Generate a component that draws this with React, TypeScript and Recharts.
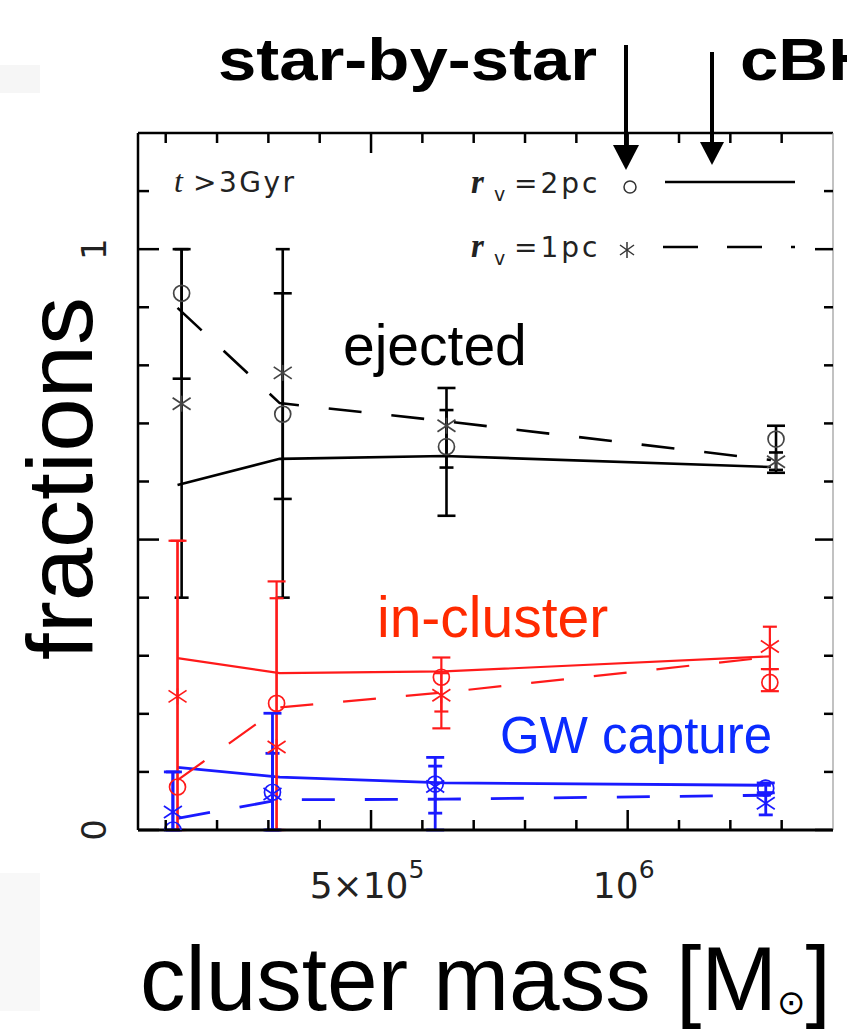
import React from "react";
import { ComposedChart, XAxis, YAxis, Line, Scatter, ErrorBar } from "recharts";

const W = 847;
const H = 1029;

// cluster mass [Msun]; markers of each colour sit slightly apart, cBH lines share one set
const MASS_CBH = [1.23e5, 3.22e5, 6.43e5, 1.279e6];
const MASS_EJ = [1.31e5, 3.28e5, 6.47e5, 1.289e6];
const MASS_IN = [1.23e5, 3.16e5, 6.37e5, 1.277e6];
const MASS_GW = [1.14e5, 3.08e5, 6.25e5, 1.269e6];

// ejected (black)
const EJ_STAR_2PC = [0.924, 0.716, 0.66, 0.673];
const EJ_STAR_2PC_LO = [0.777, 0.57, 0.541, 0.615];
const EJ_STAR_2PC_HI = [1.0, 0.924, 0.761, 0.696];
const EJ_STAR_1PC = [0.734, 0.787, 0.696, 0.634];
const EJ_STAR_1PC_LO = [0.4, 0.4, 0.624, 0.62];
const EJ_STAR_1PC_HI = [1.0, 1.0, 0.723, 0.65];
const EJ_CBH_2PC = [0.594, 0.639, 0.644, 0.625];
const EJ_CBH_1PC = [0.899, 0.735, 0.704, 0.637];

// in-cluster (red)
const IN_STAR_2PC = [0.074, 0.218, 0.263, 0.254];
const IN_STAR_2PC_LO = [0.0, 0.0, 0.175, 0.239];
const IN_STAR_2PC_HI = [0.498, 0.428, 0.297, 0.277];
const IN_STAR_1PC = [0.23, 0.143, 0.232, 0.316];
const IN_STAR_1PC_LO = [0.0, 0.0, 0.204, 0.277];
const IN_STAR_1PC_HI = [0.498, 0.399, 0.27, 0.35];
const IN_CBH_2PC = [0.296, 0.27, 0.273, 0.299];
const IN_CBH_1PC = [0.086, 0.211, 0.237, 0.298];

// GW capture (blue)
const GW_STAR_2PC = [0.0, 0.065, 0.079, 0.072];
const GW_STAR_2PC_LO = [0.0, 0.0, 0.0, 0.064];
const GW_STAR_2PC_HI = [0.1, 0.201, 0.125, 0.081];
const GW_STAR_1PC = [0.031, 0.062, 0.075, 0.046];
const GW_STAR_1PC_LO = [0.0, 0.0, 0.029, 0.026];
const GW_STAR_1PC_HI = [0.1, 0.132, 0.11, 0.064];
const GW_CBH_2PC = [0.108, 0.091, 0.081, 0.077];
const GW_CBH_1PC = [0.02, 0.052, 0.053, 0.06];

const X_DOMAIN = [0.46e5, 1.4e6];
const X_TICKS = [1e5, 2e5, 3e5, 4e5, 5e5, 6e5, 7e5, 8e5, 9e5, 1e6, 1.1e6, 1.2e6, 1.3e6];
const X_MAJOR = [5e5, 1e6];
const X_LABELS: Record<number, [string, string]> = { 500000: ["5×10", "5"], 1000000: ["10", "6"] };
const Y_TICKS = [0, 0.1, 0.2, 0.3, 0.4, 0.5, 0.6, 0.7, 0.8, 0.9, 1.0, 1.1];
const Y_MAJOR = [0, 0.5, 1.0];
const Y_LABELS: Record<string, string> = { "0": "0", "1": "1" };

const SANS = "'Liberation Sans', Arial, Helvetica, sans-serif";
const PLOT_FONT = "'DejaVu Sans', sans-serif";

const pts = (mass: number[], v: number[], lo?: number[], hi?: number[]) =>
  mass.map((m, i) => ({
    m,
    v: v[i],
    err: lo && hi ? [v[i] - lo[i], hi[i] - v[i]] : undefined,
  }));

const GROUPS = [
  {
    key: "ej", color: "#000", ring: "#444", width: 2.6,
    s2: pts(MASS_EJ, EJ_STAR_2PC, EJ_STAR_2PC_LO, EJ_STAR_2PC_HI),
    s1: pts(MASS_EJ, EJ_STAR_1PC, EJ_STAR_1PC_LO, EJ_STAR_1PC_HI),
    c2: pts(MASS_CBH, EJ_CBH_2PC), c1: pts(MASS_CBH, EJ_CBH_1PC),
  },
  {
    key: "in", color: "#ff1a1a", ring: "#ff1a1a", width: 2.2,
    s2: pts(MASS_IN, IN_STAR_2PC, IN_STAR_2PC_LO, IN_STAR_2PC_HI),
    s1: pts(MASS_IN, IN_STAR_1PC, IN_STAR_1PC_LO, IN_STAR_1PC_HI),
    c2: pts(MASS_CBH, IN_CBH_2PC), c1: pts(MASS_CBH, IN_CBH_1PC),
  },
  {
    key: "gw", color: "#1a1aff", ring: "#1a1aff", width: 2.8,
    s2: pts(MASS_GW, GW_STAR_2PC, GW_STAR_2PC_LO, GW_STAR_2PC_HI),
    s1: pts(MASS_GW, GW_STAR_1PC, GW_STAR_1PC_LO, GW_STAR_1PC_HI),
    c2: pts(MASS_CBH, GW_CBH_2PC), c1: pts(MASS_CBH, GW_CBH_1PC),
  },
];

function Ring(props: any) {
  const { cx, cy, color } = props;
  return <circle cx={cx} cy={cy} r={8} fill="none" stroke={color} strokeWidth={1.7} />;
}

function Asterisk(props: any) {
  const { cx, cy, color } = props;
  return (
    <g stroke={color} strokeWidth={1.7}>
      <line x1={cx - 9} y1={cy - 6} x2={cx + 9} y2={cy + 6} />
      <line x1={cx - 9} y1={cy + 6} x2={cx + 9} y2={cy - 6} />
      <line x1={cx} y1={cy - 8} x2={cx} y2={cy + 8} />
    </g>
  );
}

function BottomTick(props: any) {
  const { x, y, payload } = props;
  const v = payload.value;
  const major = X_MAJOR.includes(v);
  const lab = X_LABELS[v];
  return (
    <g>
      <line x1={x} x2={x} y1={y} y2={y - (major ? 20 : 10)} stroke="#000" strokeWidth={2.5} />
      {lab && (
        <text x={x - 4} y={y + 68} textAnchor="middle" fontFamily={PLOT_FONT} fontSize={36} fill="#222">
          {lab[0]}
          <tspan fontSize={25} dy={-20}>{lab[1]}</tspan>
        </text>
      )}
    </g>
  );
}

function TopTick(props: any) {
  const { x, y, payload } = props;
  const major = X_MAJOR.includes(payload.value);
  return <line x1={x} x2={x} y1={y} y2={y + (major ? 20 : 10)} stroke="#000" strokeWidth={2.5} />;
}

function LeftTick(props: any) {
  const { x, y, payload } = props;
  const v = payload.value;
  const major = Y_MAJOR.includes(v);
  const lab = Y_LABELS[String(v)];
  return (
    <g>
      <line x1={x} x2={x + (major ? 21 : 11)} y1={y} y2={y} stroke="#000" strokeWidth={2.5} />
      {lab && (
        <text transform={`translate(${x - 32},${y}) rotate(-90)`} textAnchor="middle" fontFamily={PLOT_FONT} fontSize={34} fill="#222">
          {lab}
        </text>
      )}
    </g>
  );
}

function RightTick(props: any) {
  const { x, y, payload } = props;
  const major = Y_MAJOR.includes(payload.value);
  return <line x1={x} x2={x - (major ? 18 : 9)} y1={y} y2={y} stroke="#000" strokeWidth={2.5} />;
}

function Overlay() {
  return (
    <svg width={W} height={H} style={{ position: "absolute", left: 0, top: 0, pointerEvents: "none" }}>
      <rect x={0} y={65} width={40} height={28} fill="#f6f6f6" />
      <rect x={0} y={873} width={40} height={138} fill="#f8f8f8" />

      {/* top annotations */}
      <text x={218} y={80} fontFamily={SANS} fontWeight="bold" fontSize={60} textLength={379} lengthAdjust="spacingAndGlyphs">star-by-star</text>
      <text x={740} y={80} fontFamily={SANS} fontWeight="bold" fontSize={60} textLength={138} lengthAdjust="spacingAndGlyphs">cBH</text>
      <line x1={626} y1={45} x2={626} y2={150} stroke="#000" strokeWidth={4} />
      <polygon points="613,145 639,145 626,170" fill="#000" />
      <line x1={712} y1={52} x2={712} y2={146} stroke="#000" strokeWidth={4} />
      <polygon points="700,142 724,142 712,165" fill="#000" />

      {/* in-plot legend */}
      <text x={174} y={192} fontFamily="'Liberation Serif', serif" fontStyle="italic" fontSize={32} fill="#222">t</text>
      <text x={193} y={192} fontFamily={PLOT_FONT} fontSize={28} letterSpacing={2.5} fill="#222">&gt;3Gyr</text>

      <text x={471} y={193} fontFamily="'Liberation Serif', serif" fontStyle="italic" fontWeight="bold" fontSize={33} fill="#222">r</text>
      <text x={494} y={201} fontFamily={PLOT_FONT} fontSize={19} fill="#222">v</text>
      <text x={514} y={193} fontFamily={PLOT_FONT} fontSize={28} letterSpacing={3} fill="#222">=2pc</text>
      <circle cx={630} cy={187} r={6} fill="none" stroke="#333" strokeWidth={1.5} />
      <line x1={665} y1={182} x2={795} y2={182} stroke="#000" strokeWidth={2.6} />

      <text x={471} y={257} fontFamily="'Liberation Serif', serif" fontStyle="italic" fontWeight="bold" fontSize={33} fill="#222">r</text>
      <text x={494} y={265} fontFamily={PLOT_FONT} fontSize={19} fill="#222">v</text>
      <text x={514} y={257} fontFamily={PLOT_FONT} fontSize={28} letterSpacing={3} fill="#222">=1pc</text>
      <g stroke="#333" strokeWidth={1.5}>
        <line x1={620} y1={245} x2={634} y2={255} />
        <line x1={620} y1={255} x2={634} y2={245} />
        <line x1={627} y1={242} x2={627} y2={258} />
      </g>
      <line x1={663} y1={247} x2={795} y2={247} stroke="#000" strokeWidth={2.6} strokeDasharray="35 29" />

      {/* channel labels */}
      <text x={343} y={365} fontFamily={SANS} fontSize={57} fill="#000">ejected</text>
      <text x={377} y={637} fontFamily={SANS} fontSize={57} fill="#ff2a00">in-cluster</text>
      <text x={500} y={753} fontFamily={SANS} fontSize={51} fill="#0a2bff">GW capture</text>

      {/* axis titles */}
      <text transform="translate(92,660) rotate(-90)" fontFamily={SANS} fontSize={92} textLength={363} lengthAdjust="spacingAndGlyphs">fractions</text>
      <text x={140} y={1010} fontFamily={SANS} fontSize={91}>
        cluster mass [M
        <tspan fontFamily={PLOT_FONT} fontSize={34} dy={4}>⊙</tspan>
        <tspan dy={-4}>]</tspan>
      </text>
    </svg>
  );
}

export default function App() {
  return (
    <div style={{ position: "absolute", left: 0, top: 0, width: W, height: H, background: "#fff" }}>
      <ComposedChart width={W} height={H} margin={{ top: 132, right: 13, bottom: 198, left: 137 }}>
        <XAxis
          xAxisId="b" orientation="bottom" dataKey="m" type="number" domain={X_DOMAIN} ticks={X_TICKS}
          interval={0} allowDataOverflow height={1} tickSize={0} tickMargin={0} tickLine={false}
          axisLine={{ stroke: "#000", strokeWidth: 3 }} tick={(p: any) => <BottomTick {...p} />}
        />
        <XAxis
          xAxisId="t" orientation="top" dataKey="m" type="number" domain={X_DOMAIN} ticks={X_TICKS}
          interval={0} allowDataOverflow height={1} tickSize={0} tickMargin={0} tickLine={false}
          axisLine={{ stroke: "#000", strokeWidth: 2.5 }} tick={(p: any) => <TopTick {...p} />}
        />
        <YAxis
          yAxisId="l" orientation="left" dataKey="v" type="number" domain={[0, 1.2]} ticks={Y_TICKS}
          interval={0} allowDataOverflow width={1} tickSize={0} tickMargin={0} tickLine={false}
          axisLine={{ stroke: "#000", strokeWidth: 2.5 }} tick={(p: any) => <LeftTick {...p} />}
        />
        <YAxis
          yAxisId="r" orientation="right" dataKey="v" type="number" domain={[0, 1.2]} ticks={Y_TICKS}
          interval={0} allowDataOverflow width={1} tickSize={0} tickMargin={0} tickLine={false}
          axisLine={{ stroke: "#999", strokeWidth: 1.2 }} tick={(p: any) => <RightTick {...p} />}
        />

        {GROUPS.map((g) => (
          <Line
            key={g.key + "c2"} xAxisId="b" yAxisId="l" data={g.c2} dataKey="v" type="linear"
            stroke={g.color} strokeWidth={g.width} dot={false} activeDot={false} isAnimationActive={false}
          />
        ))}
        {GROUPS.map((g) => (
          <Line
            key={g.key + "c1"} xAxisId="b" yAxisId="l" data={g.c1} dataKey="v" type="linear"
            stroke={g.color} strokeWidth={g.width} strokeDasharray="33 30" dot={false} activeDot={false}
            isAnimationActive={false}
          />
        ))}
        {GROUPS.map((g) => (
          <Scatter
            key={g.key + "s1"} xAxisId="b" yAxisId="l" data={g.s1} dataKey="v" isAnimationActive={false}
            shape={(p: any) => <Asterisk {...p} color={g.ring} />}
          >
            <ErrorBar dataKey="err" direction="y" width={7} stroke={g.color} strokeWidth={g.width} isAnimationActive={false} />
          </Scatter>
        ))}
        {GROUPS.map((g) => (
          <Scatter
            key={g.key + "s2"} xAxisId="b" yAxisId="l" data={g.s2} dataKey="v" isAnimationActive={false}
            shape={(p: any) => <Ring {...p} color={g.ring} />}
          >
            <ErrorBar dataKey="err" direction="y" width={9} stroke={g.color} strokeWidth={g.width} isAnimationActive={false} />
          </Scatter>
        ))}
      </ComposedChart>
      <Overlay />
    </div>
  );
}
